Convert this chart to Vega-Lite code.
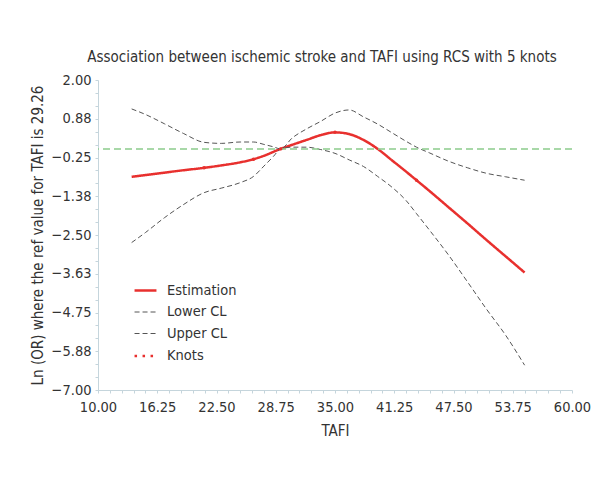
{
  "$schema": "https://vega.github.io/schema/vega-lite/v6.json",
  "width": 474,
  "height": 310,
  "autosize": {"type": "none"},
  "padding": {"left": 98, "top": 80, "right": 22, "bottom": 94},
  "background": "white",
  "config": {
    "font": "DejaVu Sans Condensed, sans-serif",
    "view": {"stroke": null}
  },
  "title": {
    "text": "Association between ischemic stroke and TAFI using RCS with 5 knots",
    "fontSize": 15,
    "fontWeight": "normal",
    "color": "#333333",
    "dx": -13,
    "offset": 7
  },
  "datasets": {
    "ref": [{"lnOR": 0}],
    "knots": [
      {"TAFI": 21.2, "lnOR": -0.55},
      {"TAFI": 26.4, "lnOR": -0.30},
      {"TAFI": 29.26, "lnOR": 0},
      {"TAFI": 35.0, "lnOR": 0.48},
      {"TAFI": 43.6, "lnOR": -0.91}
    ],
    "curves": [
      {"series": "Estimation", "TAFI": 13.55, "lnOR": -0.81},
      {"series": "Estimation", "TAFI": 15, "lnOR": -0.76},
      {"series": "Estimation", "TAFI": 17, "lnOR": -0.69},
      {"series": "Estimation", "TAFI": 19, "lnOR": -0.62},
      {"series": "Estimation", "TAFI": 21.2, "lnOR": -0.55},
      {"series": "Estimation", "TAFI": 23, "lnOR": -0.48},
      {"series": "Estimation", "TAFI": 25, "lnOR": -0.39},
      {"series": "Estimation", "TAFI": 26.4, "lnOR": -0.30},
      {"series": "Estimation", "TAFI": 27.5, "lnOR": -0.20},
      {"series": "Estimation", "TAFI": 29.26, "lnOR": 0},
      {"series": "Estimation", "TAFI": 30.5, "lnOR": 0.12},
      {"series": "Estimation", "TAFI": 32, "lnOR": 0.26},
      {"series": "Estimation", "TAFI": 33.5, "lnOR": 0.40},
      {"series": "Estimation", "TAFI": 35, "lnOR": 0.48},
      {"series": "Estimation", "TAFI": 36.5, "lnOR": 0.43},
      {"series": "Estimation", "TAFI": 38, "lnOR": 0.26},
      {"series": "Estimation", "TAFI": 39.5, "lnOR": 0.0},
      {"series": "Estimation", "TAFI": 41, "lnOR": -0.33},
      {"series": "Estimation", "TAFI": 42.5, "lnOR": -0.66},
      {"series": "Estimation", "TAFI": 43.6, "lnOR": -0.91},
      {"series": "Estimation", "TAFI": 45, "lnOR": -1.23},
      {"series": "Estimation", "TAFI": 47, "lnOR": -1.70},
      {"series": "Estimation", "TAFI": 49, "lnOR": -2.17},
      {"series": "Estimation", "TAFI": 51, "lnOR": -2.65},
      {"series": "Estimation", "TAFI": 53, "lnOR": -3.12},
      {"series": "Estimation", "TAFI": 55, "lnOR": -3.59},

      {"series": "Lower CL", "TAFI": 13.55, "lnOR": -2.72},
      {"series": "Lower CL", "TAFI": 15, "lnOR": -2.43},
      {"series": "Lower CL", "TAFI": 17, "lnOR": -2.00},
      {"series": "Lower CL", "TAFI": 19, "lnOR": -1.62},
      {"series": "Lower CL", "TAFI": 21.2, "lnOR": -1.27},
      {"series": "Lower CL", "TAFI": 23, "lnOR": -1.14},
      {"series": "Lower CL", "TAFI": 25, "lnOR": -0.98},
      {"series": "Lower CL", "TAFI": 26.4, "lnOR": -0.80},
      {"series": "Lower CL", "TAFI": 27.5, "lnOR": -0.50},
      {"series": "Lower CL", "TAFI": 28.5, "lnOR": -0.22},
      {"series": "Lower CL", "TAFI": 29.26, "lnOR": 0},
      {"series": "Lower CL", "TAFI": 30.5, "lnOR": 0.05},
      {"series": "Lower CL", "TAFI": 32, "lnOR": 0.05},
      {"series": "Lower CL", "TAFI": 33.5, "lnOR": -0.02},
      {"series": "Lower CL", "TAFI": 35, "lnOR": -0.13},
      {"series": "Lower CL", "TAFI": 36.5, "lnOR": -0.32},
      {"series": "Lower CL", "TAFI": 38, "lnOR": -0.51},
      {"series": "Lower CL", "TAFI": 39.5, "lnOR": -0.80},
      {"series": "Lower CL", "TAFI": 41, "lnOR": -1.11},
      {"series": "Lower CL", "TAFI": 42.5, "lnOR": -1.50},
      {"series": "Lower CL", "TAFI": 43.6, "lnOR": -1.88},
      {"series": "Lower CL", "TAFI": 45, "lnOR": -2.37},
      {"series": "Lower CL", "TAFI": 47, "lnOR": -3.09},
      {"series": "Lower CL", "TAFI": 49, "lnOR": -3.87},
      {"series": "Lower CL", "TAFI": 51, "lnOR": -4.66},
      {"series": "Lower CL", "TAFI": 53, "lnOR": -5.41},
      {"series": "Lower CL", "TAFI": 55, "lnOR": -6.28},

      {"series": "Upper CL", "TAFI": 13.55, "lnOR": 1.16},
      {"series": "Upper CL", "TAFI": 15, "lnOR": 1.00},
      {"series": "Upper CL", "TAFI": 17, "lnOR": 0.73},
      {"series": "Upper CL", "TAFI": 19, "lnOR": 0.45},
      {"series": "Upper CL", "TAFI": 21.2, "lnOR": 0.19},
      {"series": "Upper CL", "TAFI": 23, "lnOR": 0.16},
      {"series": "Upper CL", "TAFI": 25, "lnOR": 0.20},
      {"series": "Upper CL", "TAFI": 26.4, "lnOR": 0.20},
      {"series": "Upper CL", "TAFI": 27.5, "lnOR": 0.13},
      {"series": "Upper CL", "TAFI": 28.5, "lnOR": 0.06},
      {"series": "Upper CL", "TAFI": 29.26, "lnOR": 0},
      {"series": "Upper CL", "TAFI": 30.5, "lnOR": 0.32},
      {"series": "Upper CL", "TAFI": 32, "lnOR": 0.58},
      {"series": "Upper CL", "TAFI": 33.5, "lnOR": 0.80},
      {"series": "Upper CL", "TAFI": 35, "lnOR": 1.04},
      {"series": "Upper CL", "TAFI": 36.5, "lnOR": 1.13},
      {"series": "Upper CL", "TAFI": 38, "lnOR": 0.93},
      {"series": "Upper CL", "TAFI": 39.5, "lnOR": 0.72},
      {"series": "Upper CL", "TAFI": 41, "lnOR": 0.47},
      {"series": "Upper CL", "TAFI": 42.5, "lnOR": 0.22},
      {"series": "Upper CL", "TAFI": 43.6, "lnOR": 0.05},
      {"series": "Upper CL", "TAFI": 45, "lnOR": -0.12},
      {"series": "Upper CL", "TAFI": 47, "lnOR": -0.36},
      {"series": "Upper CL", "TAFI": 49, "lnOR": -0.55},
      {"series": "Upper CL", "TAFI": 51, "lnOR": -0.71},
      {"series": "Upper CL", "TAFI": 53, "lnOR": -0.81},
      {"series": "Upper CL", "TAFI": 55, "lnOR": -0.91}
    ]
  },
  "resolve": {"axis": {"x": "independent", "y": "independent"}},
  "layer": [
    {
      "data": {"name": "curves"},
      "mark": {"type": "line", "interpolate": "monotone"},
      "encoding": {
        "x": {
          "field": "TAFI",
          "type": "quantitative",
          "scale": {"domain": [10, 60], "nice": false, "zero": false},
          "axis": {
            "orient": "bottom",
            "title": "TAFI",
            "values": [10, 16.25, 22.5, 28.75, 35, 41.25, 47.5, 53.75, 60],
            "format": ".2f",
            "labelOverlap": false,
            "labelFlush": false,
            "grid": false,
            "domainColor": "#c5d5dc",
            "tickColor": "#c5d5dc",
            "tickSize": 3,
            "labelFontSize": 14.5,
            "labelColor": "#333333",
            "labelPadding": 7,
            "titleFontSize": 15,
            "titleFontWeight": "normal",
            "titleColor": "#333333",
            "titlePadding": 10
          }
        },
        "y": {
          "field": "lnOR",
          "type": "quantitative",
          "scale": {"domain": [-7, 2], "nice": false, "zero": false},
          "axis": {
            "orient": "left",
            "title": "Ln (OR) where the ref value for TAFI is 29.26",
            "values": [-7, -5.875, -4.75, -3.625, -2.5, -1.375, -0.25, 0.875, 2],
            "format": ".2f",
            "labelOverlap": false,
            "labelFlush": false,
            "grid": false,
            "domainColor": "#c5d5dc",
            "tickColor": "#c5d5dc",
            "tickSize": 3,
            "labelFontSize": 14.5,
            "labelColor": "#333333",
            "labelPadding": 4,
            "titleFontSize": 15,
            "titleFontWeight": "normal",
            "titleColor": "#333333",
            "titlePadding": 6
          }
        },
        "color": {
          "field": "series",
          "type": "nominal",
          "scale": {"domain": ["Estimation", "Lower CL", "Upper CL", "Knots"], "range": ["#e8302e", "#555555", "#555555", "#e8302e"]},
          "legend": {"title": null, "orient": "none", "legendX": 35, "legendY": 198, "symbolType": "stroke", "symbolSize": 480, "labelFontSize": 14.5, "labelColor": "#333333", "labelOffset": 9, "rowPadding": 3.5}
        },
        "strokeDash": {
          "field": "series",
          "type": "nominal",
          "scale": {"domain": ["Estimation", "Lower CL", "Upper CL", "Knots"], "range": [[1, 0], [5, 3], [5, 3], [2.5, 5.5]]},
          "legend": {"title": null, "orient": "none", "legendX": 35, "legendY": 198, "symbolType": "stroke", "symbolSize": 480, "labelFontSize": 14.5, "labelColor": "#333333", "labelOffset": 9, "rowPadding": 3.5}
        },
        "strokeWidth": {
          "field": "series",
          "type": "nominal",
          "scale": {"type": "ordinal", "domain": ["Estimation", "Lower CL", "Upper CL", "Knots"], "range": [2.5, 1, 1, 2.5]},
          "legend": {"title": null, "orient": "none", "legendX": 35, "legendY": 198, "symbolType": "stroke", "symbolSize": 480, "labelFontSize": 14.5, "labelColor": "#333333", "labelOffset": 9, "rowPadding": 3.5}
        }
      }
    },
    {
      "data": {"name": "ref"},
      "mark": {"type": "rule", "color": "#8ccc8c", "strokeDash": [7, 4], "strokeWidth": 1.5},
      "encoding": {
        "y": {
          "field": "lnOR",
          "type": "quantitative",
          "axis": {
            "orient": "left",
            "title": null,
            "labels": false,
            "domain": false,
            "grid": false,
            "values": [-6.625, -6.25, -5.5, -5.125, -4.375, -4, -3.25, -2.875, -2.125, -1.75, -1, -0.625, 0.125, 0.5, 1.25, 1.625],
            "tickColor": "#c5d5dc",
            "tickSize": 3
          }
        }
      }
    },
    {
      "data": {"name": "knots"},
      "mark": {"type": "point", "filled": true, "color": "#e8302e", "size": 12, "opacity": 1},
      "encoding": {
        "x": {
          "field": "TAFI",
          "type": "quantitative",
          "axis": {
            "orient": "bottom",
            "title": null,
            "labels": false,
            "domain": false,
            "grid": false,
            "values": [11.25, 12.5, 13.75, 15, 17.5, 18.75, 20, 21.25, 23.75, 25, 26.25, 27.5, 30, 31.25, 32.5, 33.75, 36.25, 37.5, 38.75, 40, 42.5, 43.75, 45, 46.25, 48.75, 50, 51.25, 52.5, 55, 56.25, 57.5, 58.75],
            "tickColor": "#c5d5dc",
            "tickSize": 3
          }
        },
        "y": {"field": "lnOR", "type": "quantitative", "axis": null}
      }
    }
  ]
}
